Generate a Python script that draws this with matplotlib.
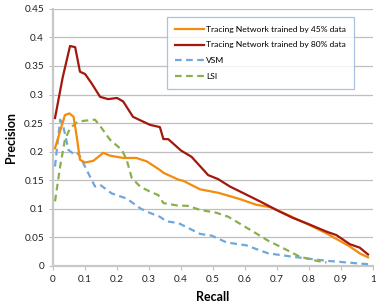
import matplotlib
matplotlib.use("Agg")
import matplotlib.pyplot as plt

plt.rcParams['font.family'] = ['Lato', 'DejaVu Sans']

# Tracing Network trained by 80% data
r80 = [0.006, 0.03, 0.053, 0.069, 0.084, 0.1, 0.12, 0.147, 0.172, 0.2, 0.219, 0.25, 0.28,
       0.303, 0.334, 0.345, 0.36, 0.40, 0.433, 0.485, 0.516, 0.553, 0.60, 0.647, 0.678,
       0.709, 0.75, 0.80, 0.855, 0.886, 0.928, 0.959, 0.985]
p80 = [0.259, 0.33, 0.385, 0.383, 0.34, 0.336, 0.32, 0.296, 0.292, 0.294, 0.288, 0.261, 0.253,
       0.247, 0.243, 0.222, 0.222, 0.202, 0.191, 0.159, 0.152, 0.139, 0.126, 0.113, 0.104,
       0.095, 0.084, 0.073, 0.060, 0.054, 0.038, 0.032, 0.020]

# Tracing Network trained by 45% data
r45 = [0.006, 0.037, 0.051, 0.064, 0.074, 0.084, 0.1, 0.126, 0.157, 0.178, 0.22, 0.26,
       0.293, 0.334, 0.345, 0.392, 0.407, 0.46, 0.517, 0.584, 0.636, 0.678, 0.72, 0.80,
       0.855, 0.928, 0.959, 0.985]
p45 = [0.206, 0.264, 0.267, 0.261, 0.226, 0.186, 0.181, 0.184, 0.198, 0.193, 0.189, 0.189,
       0.183, 0.168, 0.163, 0.151, 0.149, 0.134, 0.128, 0.117, 0.107, 0.103, 0.093, 0.072,
       0.057, 0.034, 0.022, 0.015]

# VSM
rvsm = [0.006, 0.022, 0.032, 0.048, 0.069, 0.079, 0.105, 0.131, 0.147, 0.183, 0.23, 0.272,
        0.293, 0.334, 0.355, 0.392, 0.46, 0.496, 0.543, 0.605, 0.647, 0.673, 0.75, 0.855, 0.985]
pvsm = [0.174, 0.256, 0.244, 0.203, 0.194, 0.197, 0.168, 0.139, 0.142, 0.127, 0.118, 0.101,
        0.095, 0.086, 0.078, 0.075, 0.056, 0.053, 0.041, 0.036, 0.027, 0.022, 0.016, 0.009, 0.003]

# LSI
rlsi = [0.006, 0.022, 0.037, 0.053, 0.074, 0.095, 0.131, 0.147, 0.178, 0.215, 0.23, 0.246,
        0.272, 0.303, 0.329, 0.345, 0.386, 0.423, 0.46, 0.511, 0.548, 0.59, 0.626, 0.673,
        0.72, 0.772, 0.824, 0.855]
plsi = [0.113, 0.174, 0.221, 0.241, 0.251, 0.254, 0.256, 0.245, 0.221, 0.203, 0.186, 0.154,
        0.139, 0.130, 0.124, 0.110, 0.106, 0.105, 0.098, 0.093, 0.086, 0.072, 0.060, 0.044,
        0.031, 0.016, 0.009, 0.006]

xticks = [0, 0.1, 0.2, 0.3, 0.4, 0.5, 0.6, 0.7, 0.8, 0.9, 1]
xticklabels = ['0', '0.1', '0.2', '0.3', '0.4', '0.5', '0.6', '0.7', '0.8', '0.9', '1']
yticks = [0, 0.05, 0.1, 0.15, 0.2, 0.25, 0.3, 0.35, 0.4, 0.45]
yticklabels = ['0', '0.05', '0.1', '0.15', '0.2', '0.25', '0.3', '0.35', '0.4', '0.45']

fig = plt.figure(figsize=(3.82, 3.06), dpi=100)
ax = fig.add_axes([0.139, 0.131, 0.837, 0.840])

ax.plot(r45, p45, color='#F58A0B', lw=1.6, label='Tracing Network trained by 45% data', zorder=4)
ax.plot(r80, p80, color='#A3170C', lw=1.6, label='Tracing Network trained by 80% data', zorder=5)
ax.plot(rvsm, pvsm, color='#6FA8DC', lw=1.6, ls=(0, (3, 2)), label='VSM', zorder=3)
ax.plot(rlsi, plsi, color='#8CAF4E', lw=1.6, ls=(0, (3, 2)), label='LSI', zorder=3)

ax.set_xlim(0, 1)
ax.set_ylim(0, 0.45)
ax.set_xticks(xticks)
ax.set_xticklabels(xticklabels)
ax.set_yticks(yticks)
ax.set_yticklabels(yticklabels)
ax.tick_params(labelsize=7.2, colors='#222222', length=3, width=0.8)
ax.tick_params(axis='both', color='#bfbfbf')
ax.grid(axis='y', color='#bfbfbf', lw=0.9)
ax.set_axisbelow(True)
for s in ['top', 'right']:
    ax.spines[s].set_visible(False)
for s in ['left', 'bottom']:
    ax.spines[s].set_color('#c8c8c8')
    ax.spines[s].set_linewidth(1.6)

ax.set_xlabel('Recall', fontsize=9, fontweight='bold', labelpad=5)
ax.set_ylabel('Precision', fontsize=9, fontweight='bold', labelpad=5)

leg = ax.legend(loc='upper right', bbox_to_anchor=(0.942, 0.968), fontsize=6.1,
                frameon=True, fancybox=False, handlelength=3.4, labelspacing=1.05,
                borderpad=1.0, handletextpad=0.2, borderaxespad=0)
leg.get_frame().set_edgecolor('#95B3D7')
leg.get_frame().set_linewidth(0.9)

fig.savefig('out.png', dpi=100)
